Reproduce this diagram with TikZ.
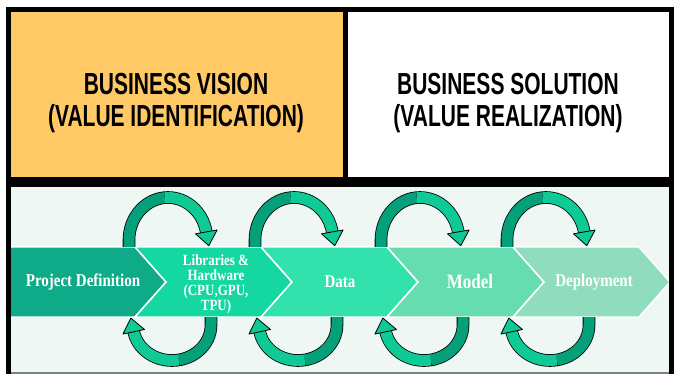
\documentclass[tikz,border=0pt]{standalone}
\usepackage{fontspec}
\setmainfont{Liberation Serif}
\setsansfont{Liberation Sans}
\definecolor{VisionGold}{HTML}{FFC966}
\definecolor{PanelMint}{HTML}{EEF7F3}
\definecolor{StepOne}{HTML}{0FAA88}
\definecolor{StepTwo}{HTML}{14D7A1}
\definecolor{StepThree}{HTML}{33E1AC}
\definecolor{StepFour}{HTML}{66DCB1}
\definecolor{StepFive}{HTML}{8FDCBE}
\definecolor{LoopDark}{HTML}{03A07A}
\definecolor{LoopLight}{HTML}{10CA96}

\begin{document}
\begin{tikzpicture}[x=1pt, y=1pt,
    frame/.style={line width=5pt, black},
    titletext/.style={font=\sffamily\bfseries\fontsize{21}{22}\selectfont, align=center, yscale=1.45},
    steptext/.style={text=white, font=\bfseries\fontsize{15}{15}\selectfont, align=center, yscale=1.2},
    chevron/.style={draw=white, line width=1.5pt, line join=miter},
    loophead/.style={fill=LoopLight, draw=black, line width=0.8pt, line join=round}]
    \useasboundingbox (0,0) rectangle (677,375);

    % top boxes
    \fill[VisionGold] (8,195.5) rectangle (345.5,365.5);
    \fill[white] (345.5,195.5) rectangle (671.5,365.5);
    \node[titletext] (vision) at (176,272) {BUSINESS VISION\\(VALUE IDENTIFICATION)};
    \node[titletext] (solution) at (508,272) {BUSINESS SOLUTION\\(VALUE REALIZATION)};

    % bottom panel
    \fill[PanelMint] (8,2) rectangle (671.5,190.5);

    % the five steps
    \fill[StepOne, chevron] (8,128) -- (135,128) -- (166,93) -- (135,58) -- (8,58) -- cycle;
    \fill[StepTwo, chevron] (135,128) -- (261,128) -- (292,93) -- (261,58) -- (135,58) -- (166,93) -- cycle;
    \fill[StepThree, chevron] (261,128) -- (387,128) -- (418,93) -- (387,58) -- (261,58) -- (292,93) -- cycle;
    \fill[StepFour, chevron] (387,128) -- (513,128) -- (544,93) -- (513,58) -- (387,58) -- (418,93) -- cycle;
    \fill[StepFive, chevron] (513,128) -- (639,128) -- (670,93) -- (639,58) -- (513,58) -- (544,93) -- cycle;

    \node[steptext] (project) at (83,93) {Project Definition};
    \node[steptext, font=\bfseries\fontsize{13}{12.5}\selectfont] (libraries) at (216,91)
        {Libraries \&\\Hardware\\(CPU,GPU,\\TPU)};
    \node[steptext] (data) at (340,93) {Data};
    \node[steptext, font=\bfseries\fontsize{17}{17}\selectfont] (model) at (470,93) {Model};
    \node[steptext] (deploy) at (594,93) {Deployment};

    % loops over and under each joint
    \foreach \tx in {166,292,418,544}{
        \begin{scope}[shift={(\tx,93)}]
            % over the band
            \begin{scope}[xshift=2]
                \draw[line width=12.6pt] (-39,35) -- (-39,42)
                    arc[start angle=180, end angle=11, x radius=39, y radius=42.5];
                \draw[LoopDark, line width=11pt] (-39,35) -- (-39,42)
                    arc[start angle=180, end angle=95, x radius=39, y radius=42.5];
                \draw[LoopLight, line width=11pt] ([shift={(0,42)}]95:39 and 42.5)
                    arc[start angle=95, end angle=11, x radius=39, y radius=42.5];
                \filldraw[loophead] (27.5,48.2) -- (49.1,52.0) -- (40.8,36.3) -- cycle;
            \end{scope}
            % under the band
            \begin{scope}[xshift=6]
                \draw[line width=12.6pt] (39,-35) -- (39,-43)
                    arc[start angle=0, end angle=-169, x radius=39, y radius=35.5];
                \draw[LoopDark, line width=11pt] (39,-35) -- (39,-43)
                    arc[start angle=0, end angle=-80, x radius=39, y radius=35.5];
                \draw[LoopLight, line width=11pt] ([shift={(0,-43)}]-80:39 and 35.5)
                    arc[start angle=-80, end angle=-169, x radius=39, y radius=35.5];
                \filldraw[loophead] (-27.5,-47.5) -- (-49.1,-52.1) -- (-41.2,-36.1) -- cycle;
            \end{scope}
        \end{scope}
    }

    % frame lines
    \draw[frame] (8,195.5) rectangle (671.5,365.5);
    \draw[frame] (345.5,195.5) -- (345.5,365.5);
    \draw[gray, line width=1.2pt] (8,2) -- (671.5,2);
    \draw[frame] (8,1) -- (8,190.5) -- (671.5,190.5) -- (671.5,1);
\end{tikzpicture}
\end{document}
